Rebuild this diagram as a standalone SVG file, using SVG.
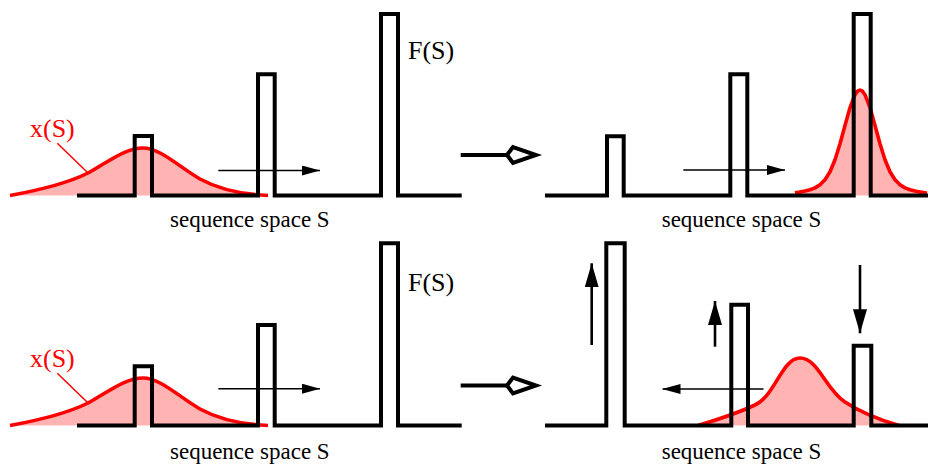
<svg xmlns="http://www.w3.org/2000/svg" width="929" height="467" viewBox="0 0 929 467">
<style>
.land{fill:none;stroke:#000;stroke-width:4;stroke-linejoin:miter;stroke-linecap:butt}
.pop{fill:none;stroke:#ff0000;stroke-width:3.6;stroke-linejoin:round;stroke-linecap:butt}
.popfill{fill:#ffb3b3;stroke:none}
.thin{fill:none;stroke:#000;stroke-width:1.4}
.thick{fill:none;stroke:#000;stroke-width:2.6}
.lead{fill:none;stroke:#ff0000;stroke-width:1.5}
.lbl{font-family:"Liberation Serif","Times New Roman",serif;font-size:23px;fill:#000}
.fs{font-family:"Liberation Serif","Times New Roman",serif;font-size:26px;fill:#000}
.xs{font-family:"Liberation Serif","Times New Roman",serif;font-size:26px;fill:#ff0000}
.imp{fill:#fff;stroke:#000;stroke-width:4;stroke-linejoin:miter}
</style>
<defs>
<marker id="ah" markerUnits="userSpaceOnUse" markerWidth="18" markerHeight="10" refX="18" refY="5" orient="auto">
<path d="M0,0 L18,5 L0,10 Z" fill="#000"/>
</marker>
<marker id="ahb" markerUnits="userSpaceOnUse" markerWidth="24" markerHeight="14" refX="24" refY="7" orient="auto">
<path d="M0,0 L24,7 L0,14 Z" fill="#000"/>
</marker>
<g id="implies">
<path class="land" d="M460.7,155 H507"/>
<path class="imp" d="M507,155 L513,147 L536,155 L513,163 Z"/>
</g>
</defs>

<g id="panel-top-left">
<path class="popfill" d="M10,195.5 C40,190 70,182 88,173 C108,162 125,148 143,148 C160,148 178,166 200,179 C222,191 245,194.5 268,195.5 Z"/>
<path class="pop" d="M10,195.5 C40,190 70,182 88,173 C108,162 125,148 143,148 C160,148 178,166 200,179 C222,191 245,194.5 268,195.5"/>
<path class="land" d="M77,195.5 H134.7 V136 H152 V195.5 H258 V74.3 H274.7 V195.5 H381 V14 H398 V195.5 H461.7"/>
<line class="lead" x1="57.3" y1="143.3" x2="88.3" y2="173.3"/>
<text class="xs" x="30" y="137">x(S)</text>
<text class="fs" x="408" y="58.5">F(S)</text>
<text class="lbl" x="170" y="226.7">sequence space S</text>
</g>

<g id="panel-top-right">
<path class="popfill" d="M795,192.8 L800,192 L805,191.1 L810,189.8 L815,187.9 L820,184.8 L825,179.8 L830,171.7 L835,159.7 L840,143.8 L845,125.4 L850,107.7 L855,94.7 L857.5,91.2 L860,90 L862.5,91.2 L865,94.7 L870,107.7 L875,125.4 L880,143.8 L885,159.7 L890,171.7 L895,179.8 L900,184.8 L905,187.9 L910,189.8 L915,191.1 L920,192 L925,192.8 L927,193.2 L927,195.5 L795,195.5 Z"/>
<path class="pop" d="M795,192.8 L800,192 L805,191.1 L810,189.8 L815,187.9 L820,184.8 L825,179.8 L830,171.7 L835,159.7 L840,143.8 L845,125.4 L850,107.7 L855,94.7 L857.5,91.2 L860,90 L862.5,91.2 L865,94.7 L870,107.7 L875,125.4 L880,143.8 L885,159.7 L890,171.7 L895,179.8 L900,184.8 L905,187.9 L910,189.8 L915,191.1 L920,192 L925,192.8 L927,193.2"/>
<path class="land" d="M545,195.5 H607 V136.3 H623.7 V195.5 H730.3 V74.3 H747.3 V195.5 H853.7 V14 H870.7 V195.5 H928"/>
<text class="lbl" x="661.7" y="226.7">sequence space S</text>
</g>

<g id="panel-bottom-left">
<path class="popfill" d="M10,425.5 C40,420 70,412 88,403 C108,392 125,378 143,378 C160,378 178,396 200,409 C222,421 245,424.5 268,425.5 Z"/>
<path class="pop" d="M10,425.5 C40,420 70,412 88,403 C108,392 125,378 143,378 C160,378 178,396 200,409 C222,421 245,424.5 268,425.5"/>
<path class="land" d="M77,425.5 H134.7 V366.3 H152 V425.5 H258 V325 H274.7 V425.5 H381 V243.3 H398 V425.5 H461.7"/>
<line class="lead" x1="57.3" y1="373.3" x2="88.3" y2="403.3"/>
<text class="xs" x="30" y="367">x(S)</text>
<text class="fs" x="408" y="290.5">F(S)</text>
<text class="lbl" x="170" y="458.5">sequence space S</text>
</g>

<g id="panel-bottom-right">
<path class="popfill" d="M698,425.5 C720,419 740,412 755,405 C775,396 782,358 800,358 C818,358 826,390 845,402 C860,412 880,420 899,425.5 Z"/>
<path class="pop" d="M698,425.5 C720,419 740,412 755,405 C775,396 782,358 800,358 C818,358 826,390 845,402 C860,412 880,420 899,425.5"/>
<path class="land" d="M545,425.5 H606.3 V243.3 H624.7 V425.5 H731.3 V304.7 H748 V425.5 H853.7 V345.7 H871.3 V425.5 H928"/>
<text class="lbl" x="661.7" y="458.5">sequence space S</text>
</g>

<g id="connectors">
<line class="thin" x1="218.3" y1="170.5" x2="320" y2="170.5" marker-end="url(#ah)"/>
<line class="thin" x1="683.3" y1="170" x2="785" y2="170" marker-end="url(#ah)"/>
<line class="thin" x1="218.3" y1="388.7" x2="320" y2="388.7" marker-end="url(#ah)"/>
<line class="thin" x1="763.5" y1="389" x2="662.5" y2="389" marker-end="url(#ah)"/>
<line class="thick" x1="591.7" y1="345" x2="591.7" y2="263.3" marker-end="url(#ahb)"/>
<line class="thick" x1="715" y1="346.7" x2="715" y2="301" marker-end="url(#ahb)"/>
<line class="thick" x1="860" y1="265" x2="860" y2="333.3" marker-end="url(#ahb)"/>
<use href="#implies"/>
<use href="#implies" transform="translate(0,230.5)"/>
</g>
</svg>
